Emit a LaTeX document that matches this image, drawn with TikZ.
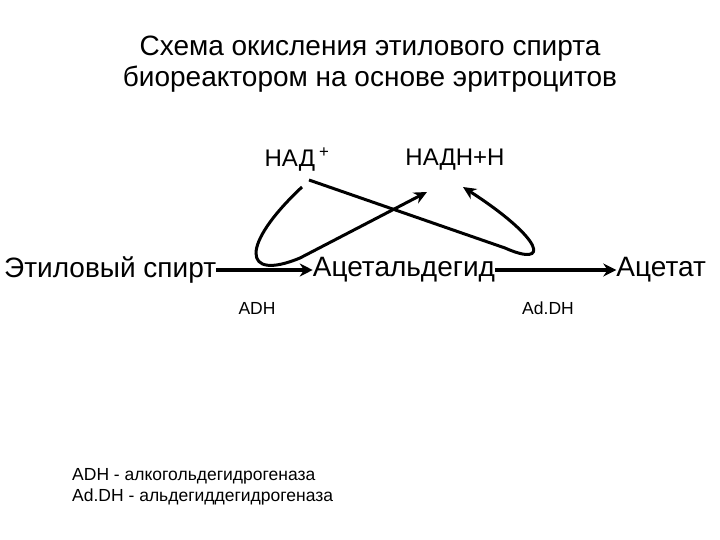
\documentclass[tikz,border=0pt]{standalone}
\usepackage{fontspec}
\setmainfont{Liberation Sans}
\usetikzlibrary{arrows.meta}
\begin{document}
\begin{tikzpicture}[x=1pt,y=-1pt,
  lbl/.style={inner sep=0pt,font=\fontsize{28}{32}\selectfont},
  small/.style={inner sep=0pt,font=\fontsize{17.5}{21}\selectfont},
  conn/.style={line width=3.5pt,-{Stealth[length=13pt,width=13pt]}},
  curarr/.style={line width=3pt,-{Stealth[length=13pt,width=12pt]}}]
\useasboundingbox (0,0) rectangle (720,540);
\node[inner sep=0pt,align=center,font=\fontsize{28}{31}\selectfont] (title) at (370,64) {Схема окисления этилового спирта\\биореактором на основе эритроцитов};
\node[lbl,font=\fontsize{24}{26}\selectfont] (nad) at (297,160) {НАД\,\textsuperscript{+}};
\node[lbl,font=\fontsize{24}{26}\selectfont] (nadh) at (455,160) {НАДН+Н};
\node[lbl,anchor=west] (eth) at (4,270) {Этиловый спирт};
\node[lbl] (ald) at (404,270) {Ацетальдегид};
\node[lbl,anchor=east] (ac) at (706,270) {Ацетат};
\node[small] (adh) at (257,308) {ADH};
\node[small] (addh) at (548,308) {Ad.DH};
\node[small,anchor=west,align=left] (leg) at (72,487) {ADH - алкогольдегидрогеназа\\Ad.DH - альдегиддегидрогеназа};
\draw[conn] (eth.east) -- (ald.west);
\draw[conn] (ald.east) -- (ac.west);
\coordinate (s1) at (302,187);
\coordinate (t1) at (427,192);
\coordinate (s2) at (309,180);
\coordinate (t2) at (463,187);
\draw[curarr] (s1) .. controls (240,245) and (242,282) .. (300,258) -- (t1);
\draw[curarr] (s2) -- (505,248) .. controls (550,268) and (545,240) .. (t2);
\end{tikzpicture}
\end{document}
